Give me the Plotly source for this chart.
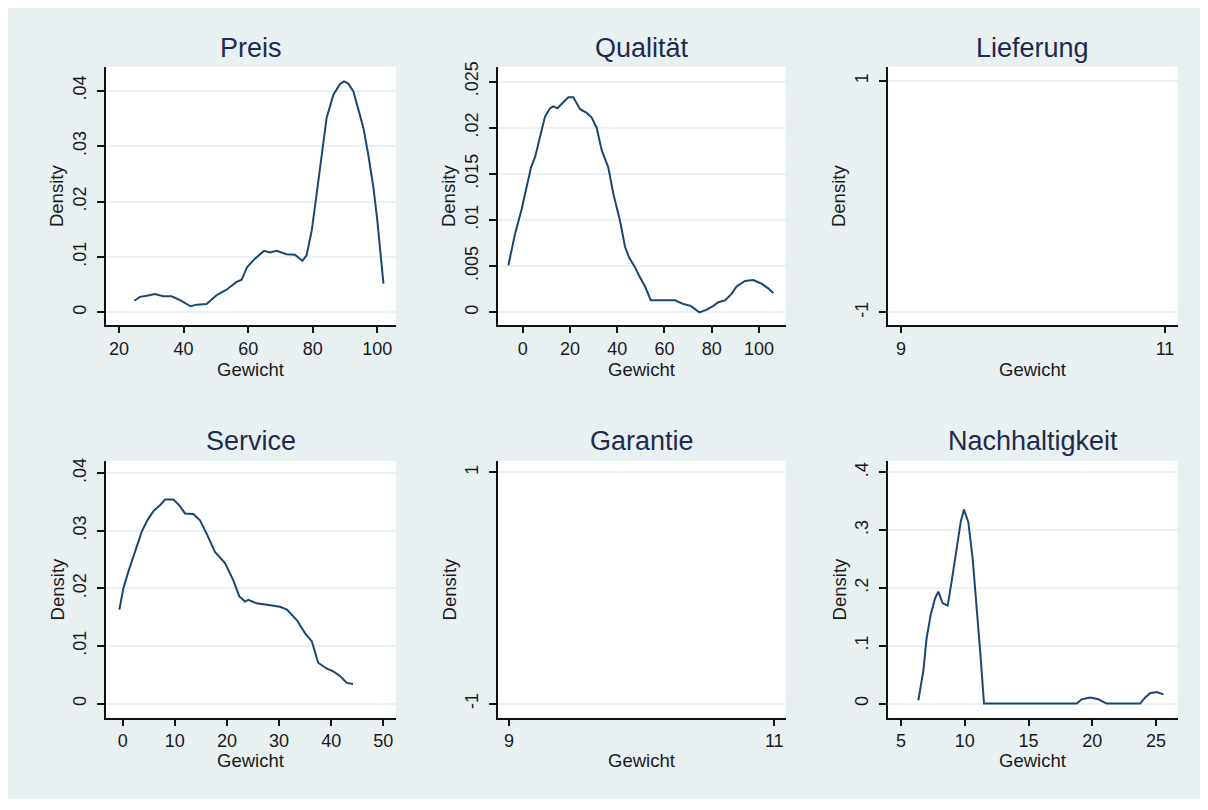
import plotly.graph_objects as go
from plotly.subplots import make_subplots

# ---------------- data ----------------
titles = ["Preis", "Qualität", "Lieferung", "Service", "Garantie", "Nachhaltigkeit"]

preis_x = [24.75, 26.5, 28.6, 31.1, 33.7, 36.3, 38.9, 42.2, 44.1, 47.1, 50.2, 53.3, 56.4, 58.0,
           59.7, 62.1, 64.9, 66.8, 68.8, 71.9, 74.5, 76.8, 78.1, 79.7, 81.2, 82.8, 84.3, 86.4,
           88.4, 89.7, 91.0, 92.6, 94.1, 95.7, 97.2, 98.8, 100.0, 101.0, 101.9]
preis_y = [0.0021, 0.0028, 0.0030, 0.0033, 0.0029, 0.0029, 0.0022, 0.0011, 0.0014, 0.0015,
           0.0031, 0.0041, 0.0055, 0.0059, 0.0082, 0.0097, 0.0111, 0.0108, 0.0111, 0.0105,
           0.0104, 0.0093, 0.0103, 0.0148, 0.0213, 0.0285, 0.0351, 0.0393, 0.0412, 0.0417,
           0.0413, 0.0399, 0.0369, 0.0333, 0.0285, 0.0225, 0.0166, 0.0106, 0.0052]

qualitaet_x = [-6.06, -3.24, -0.42, 1.97, 3.53, 5.22, 7.33, 9.45, 11.57, 12.98, 14.67, 16.5,
               19.3, 21.4, 24.3, 27.1, 29.2, 31.3, 33.4, 36.2, 38.4, 41.2, 43.3, 45.1, 47.5,
               49.6, 51.8, 54.2, 58.1, 64.5, 68.0, 71.1, 74.8, 77.9, 80.7, 82.8, 85.6, 88.4,
               90.5, 94.1, 97.6, 101.1, 103.9, 106.1]
qualitaet_y = [0.0051, 0.0085, 0.0112, 0.0139, 0.0157, 0.0168, 0.0191, 0.0212, 0.0221, 0.0223,
               0.0221, 0.0226, 0.0233, 0.0233, 0.0220, 0.0216, 0.0211, 0.0200, 0.0176, 0.0157,
               0.0128, 0.0099, 0.0071, 0.0059, 0.0049, 0.0038, 0.0028, 0.0013, 0.0013, 0.0013,
               0.0009, 0.0007, 0.0000, 0.0003, 0.0007, 0.0011, 0.0013, 0.0020, 0.0028, 0.0034,
               0.0035, 0.0031, 0.0026, 0.0021]

lieferung_x = []
lieferung_y = []

service_x = [-0.64, 0.13, 1.09, 2.37, 3.64, 4.73, 5.88, 7.16, 8.12, 9.72, 10.87, 11.96, 13.55,
             14.83, 16.11, 17.71, 19.63, 21.23, 22.38, 23.47, 24.1, 25.7, 27.6, 30.2, 31.5,
             33.4, 35.0, 36.3, 37.5, 39.1, 40.4, 41.7, 43.0, 44.2]
service_y = [0.0163, 0.0200, 0.0229, 0.0263, 0.0298, 0.0318, 0.0334, 0.0344, 0.0354, 0.0354,
             0.0344, 0.0330, 0.0329, 0.0318, 0.0295, 0.0263, 0.0244, 0.0214, 0.0186, 0.0177,
             0.0180, 0.0174, 0.0171, 0.0168, 0.0163, 0.0145, 0.0122, 0.0108, 0.0071, 0.0061,
             0.0056, 0.0048, 0.0036, 0.0034]

garantie_x = []
garantie_y = []

nachhalt_x = [6.36, 6.75, 7.01, 7.33, 7.67, 7.93, 8.27, 8.66, 8.97, 9.37, 9.68, 9.94, 10.28,
              10.62, 10.93, 11.25, 11.51, 18.78, 19.17, 19.82, 20.48, 21.13, 23.75, 24.14,
              24.53, 25.05, 25.58]
nachhalt_y = [0.0057, 0.0562, 0.1135, 0.1536, 0.1822, 0.1937, 0.1736, 0.1696, 0.2109, 0.2739,
              0.3140, 0.3358, 0.3140, 0.2510, 0.1708, 0.0791, 0.0, 0.0, 0.0074, 0.0103, 0.0074,
              0.0, 0.0, 0.0103, 0.0178, 0.0201, 0.0160]

# tick values / labels
preis_xticks = [20, 40, 60, 80, 100]
preis_yticks = [0, 0.01, 0.02, 0.03, 0.04]
preis_ylabels = ["0", ".01", ".02", ".03", ".04"]
qual_xticks = [0, 20, 40, 60, 80, 100]
qual_yticks = [0, 0.005, 0.01, 0.015, 0.02, 0.025]
qual_ylabels = ["0", ".005", ".01", ".015", ".02", ".025"]
empty_xticks = [9, 11]
empty_yticks = [-1, 1]
empty_ylabels = ["-1", "1"]
serv_xticks = [0, 10, 20, 30, 40, 50]
serv_yticks = [0, 0.01, 0.02, 0.03, 0.04]
serv_ylabels = ["0", ".01", ".02", ".03", ".04"]
nach_xticks = [5, 10, 15, 20, 25]
nach_yticks = [0, 0.1, 0.2, 0.3, 0.4]
nach_ylabels = ["0", ".1", ".2", ".3", ".4"]

x_title = "Gewicht"
y_title = "Density"

# ---------------- layout helpers ----------------
OX, OY = 8, 11          # page offset of the figure inside the browser window
FW, FH = 1200, 791      # figure size so that the page does not overflow the window
BG = "#e8f0f2"
LINE = "#1a476f"
FONT = "Arial, Liberation Sans, sans-serif"
TXT = "#1a1a1a"
TITLE_C = "#1f2a4e"

panels = [
    dict(x=preis_x, y=preis_y, xr=[15.88, 105.79], yr=[-0.00228, 0.04436],
         xt=preis_xticks, yt=preis_yticks, yl=preis_ylabels),
    dict(x=qualitaet_x, y=qualitaet_y, xr=[-10.58, 111.3], yr=[-0.00137, 0.02661],
         xt=qual_xticks, yt=qual_yticks, yl=qual_ylabels),
    dict(x=lieferung_x, y=lieferung_y, xr=[8.899, 11.096], yr=[-1.109, 1.123],
         xt=empty_xticks, yt=empty_yticks, yl=empty_ylabels),
    dict(x=service_x, y=service_y, xr=[-3.26, 52.44], yr=[-0.00241, 0.04212],
         xt=serv_xticks, yt=serv_yticks, yl=serv_ylabels),
    dict(x=garantie_x, y=garantie_y, xr=[8.915, 11.086], yr=[-1.120, 1.0997],
         xt=empty_xticks, yt=empty_yticks, yl=empty_ylabels),
    dict(x=nachhalt_x, y=nachhalt_y, xr=[3.957, 26.70], yr=[-0.0241, 0.42],
         xt=nach_xticks, yt=nach_yticks, yl=nach_ylabels),
]

# positions in window pixels
col_px = [(105.7, 396.0), (497.7, 785.7), (887.7, 1177.7)]
row_px = [(65.0, 325.0), (461.7, 720.0)]
title_y_px = [46.5, 441.5]
xtitle_y_px = [369.5, 763.0]
xtick_standoff = [0, 0]
ytitle_dx = 48.5


def px_x(v):
    return (v - OX) / FW


def px_y(v):
    return 1 - (v - OY) / FH


fig = make_subplots(rows=2, cols=3)

annotations = []
for i, p in enumerate(panels):
    r, c = divmod(i, 3)
    fig.add_trace(go.Scatter(x=p["x"], y=p["y"], mode="lines",
                             line=dict(color=LINE, width=2), showlegend=False,
                             hoverinfo="skip"), row=r + 1, col=c + 1)
    x0, x1 = col_px[c]
    y0, y1 = row_px[r]
    fig.update_xaxes(row=r + 1, col=c + 1,
                     domain=[px_x(x0), px_x(x1)], range=p["xr"], tickmode="array",
                     tickvals=p["xt"], ticktext=[str(v) for v in p["xt"]],
                     showgrid=False, zeroline=False, showline=True, linecolor="#111",
                     linewidth=2, ticks="outside", ticklen=6, tickwidth=1.5, tickcolor="#111",
                     tickfont=dict(family=FONT, size=18, color=TXT),
                     ticklabelstandoff=xtick_standoff[r])
    fig.update_yaxes(row=r + 1, col=c + 1,
                     domain=[px_y(y1), px_y(y0)], range=p["yr"], tickmode="array",
                     tickvals=p["yt"], ticktext=p["yl"], tickangle=-90,
                     showgrid=True, gridcolor="#e9f1f4", gridwidth=2,
                     zeroline=False, showline=True, linecolor="#111",
                     linewidth=2, ticks="outside", ticklen=7, tickwidth=1.5, tickcolor="#111",
                     tickfont=dict(family=FONT, size=18, color=TXT), ticklabelstandoff=4)
    # panel title
    annotations.append(dict(text=titles[i], x=px_x((x0 + x1) / 2), y=px_y(title_y_px[r]),
                            xref="paper", yref="paper", xanchor="center", yanchor="middle",
                            showarrow=False, font=dict(family=FONT, size=27, color=TITLE_C)))
    # x axis title
    annotations.append(dict(text=x_title, x=px_x((x0 + x1) / 2), y=px_y(xtitle_y_px[r]),
                            xref="paper", yref="paper", xanchor="center", yanchor="middle",
                            showarrow=False, font=dict(family=FONT, size=18.5, color=TXT)))
    # y axis title
    annotations.append(dict(text=y_title, x=px_x(x0 - ytitle_dx), y=px_y((y0 + y1) / 2),
                            xref="paper", yref="paper", xanchor="center", yanchor="middle",
                            textangle=-90, showarrow=False,
                            font=dict(family=FONT, size=18.5, color=TXT)))

fig.update_layout(
    width=FW, height=FH,
    margin=dict(l=0, r=0, t=0, b=0),
    paper_bgcolor=BG, plot_bgcolor="white",
    annotations=annotations,
    showlegend=False,
)

fig.write_html("out.html")
